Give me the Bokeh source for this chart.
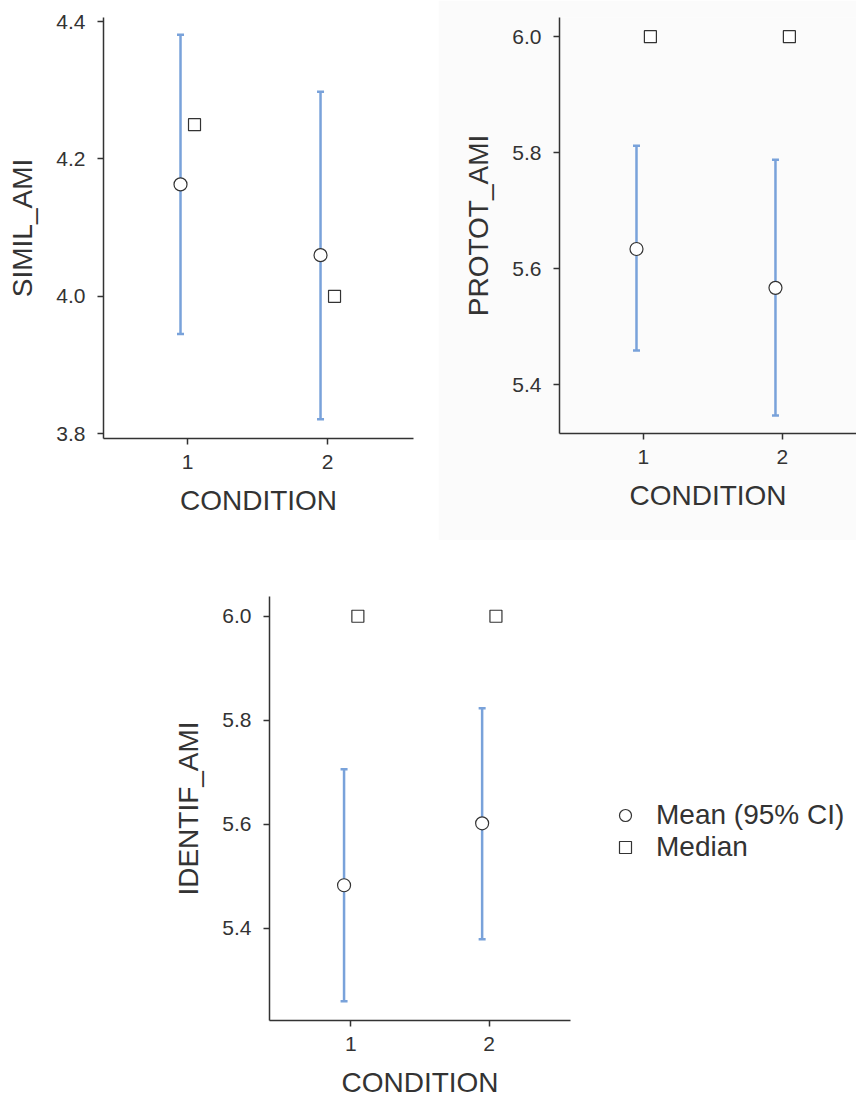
from bokeh.plotting import figure
from bokeh.layouts import column, row
from bokeh.models import (Range1d, FixedTicker, Whisker, ColumnDataSource, Legend,
                          LegendItem, TeeHead, PrintfTickFormatter)
from bokeh.transform import dodge
from bokeh.embed import file_html
from bokeh.resources import INLINE

# ---------------- data ----------------
conditions = [1, 2]
x_ticks = [1, 2]

simil_mean = [4.163, 4.060]
simil_lo = [3.945, 3.821]
simil_hi = [4.381, 4.298]
simil_median = [4.25, 4.00]
simil_ticks = [3.8, 4.0, 4.2, 4.4]

protot_mean = [5.634, 5.567]
protot_lo = [5.459, 5.347]
protot_hi = [5.812, 5.788]
protot_median = [6.0, 6.0]
protot_ticks = [5.4, 5.6, 5.8, 6.0]

identif_mean = [5.483, 5.602]
identif_lo = [5.260, 5.379]
identif_hi = [5.706, 5.823]
identif_median = [6.0, 6.0]
identif_ticks = [5.4, 5.6, 5.8, 6.0]

legend_labels = ["Mean (95% CI)", "Median"]

# ---------------- style ----------------
FONT = "Liberation Sans"
DARK = "#333333"
CI_COLOR = "#79A2DA"
TICK_SIZE = "21px"
TITLE_SIZE = "28px"


def make_panel(ylabel, mean, lo, hi, med, yticks, yrange, xrange,
               fw, fh, bl, br, bt, bb, bg="white"):
    src = ColumnDataSource(dict(x=conditions, mean=mean, lo=lo, hi=hi, med=med))
    p = figure(output_backend="svg", toolbar_location=None,
               frame_width=fw, frame_height=fh,
               min_border_left=bl, min_border_right=br,
               min_border_top=bt, min_border_bottom=bb,
               x_range=Range1d(*xrange), y_range=Range1d(*yrange),
               background_fill_color=bg, border_fill_color=bg)
    p.outline_line_color = None
    p.grid.visible = False

    w = Whisker(base=dodge("x", -0.05), lower="lo", upper="hi", source=src,
                line_color=CI_COLOR, line_width=2.5,
                upper_head=TeeHead(size=7, line_color=CI_COLOR, line_width=2.5),
                lower_head=TeeHead(size=7, line_color=CI_COLOR, line_width=2.5))
    p.add_layout(w)
    r_mean = p.scatter(x=dodge("x", -0.05), y="mean", source=src, marker="circle",
                       size=13, fill_color="white", line_color=DARK, line_width=1.2)
    r_med = p.scatter(x=dodge("x", 0.05), y="med", source=src, marker="square",
                      size=12, fill_color="white", line_color=DARK, line_width=1.2)

    for ax in (p.xaxis[0], p.yaxis[0]):
        ax.axis_line_color = DARK
        ax.axis_line_width = 1.5
        ax.major_tick_line_color = DARK
        ax.major_tick_line_width = 1.5
        ax.major_tick_out = 6
        ax.major_tick_in = 0
        ax.minor_tick_line_color = None
        ax.major_label_text_font = FONT
        ax.major_label_text_font_size = TICK_SIZE
        ax.major_label_text_color = DARK
        ax.axis_label_text_font = FONT
        ax.axis_label_text_font_size = TITLE_SIZE
        ax.axis_label_text_font_style = "normal"
        ax.axis_label_text_color = DARK

    p.xaxis.ticker = FixedTicker(ticks=x_ticks)
    p.xaxis.formatter = PrintfTickFormatter(format="%d")
    p.xaxis.axis_label = "CONDITION"
    p.xaxis.major_label_standoff = 10
    p.xaxis.axis_label_standoff = 13

    p.yaxis.ticker = FixedTicker(ticks=yticks)
    p.yaxis.formatter = PrintfTickFormatter(format="%.1f")
    p.yaxis.axis_label = ylabel
    p.yaxis.major_label_standoff = 12
    p.yaxis.axis_label_standoff = 15
    return p, r_mean, r_med


p1, _, _ = make_panel("SIMIL_AMI", simil_mean, simil_lo, simil_hi, simil_median,
                      simil_ticks, (3.793, 4.406), (0.4, 2.614),
                      fw=310, fh=421, bl=103, br=25, bt=14, bb=105)
p2, _, _ = make_panel("PROTOT_AMI", protot_mean, protot_lo, protot_hi, protot_median,
                      protot_ticks, (5.316, 6.033), (0.396, 2.533),
                      fw=297, fh=416, bl=121, br=0, bt=17, bb=107, bg="#fbfbfb")
p3, m3, md3 = make_panel("IDENTIF_AMI", identif_mean, identif_lo, identif_hi, identif_median,
                         identif_ticks, (5.223, 6.038), (0.41, 2.59),
                         fw=301, fh=424, bl=269, br=286, bt=56, bb=80)

legend = Legend(items=[LegendItem(label=legend_labels[0], renderers=[m3]),
                       LegendItem(label=legend_labels[1], renderers=[md3])],
                location=(40, 157), padding=0, margin=0, spacing=0,
                border_line_color=None, background_fill_alpha=0,
                label_text_font=FONT, label_text_font_size="28px",
                label_text_color=DARK, label_standoff=16,
                glyph_width=30, glyph_height=30)
p3.add_layout(legend, "right")

layout = column(row(p1, p2, spacing=0), p3, spacing=0)

open("out.html", "w").write(file_html(layout, INLINE))
